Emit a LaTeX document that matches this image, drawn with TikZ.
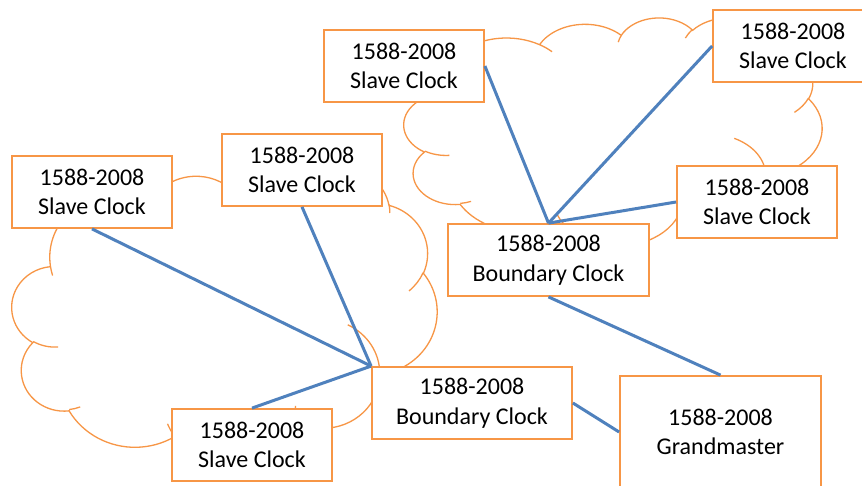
\documentclass[tikz,border=0pt]{standalone}
\usepackage{fontspec}
\setmainfont{Carlito}
\definecolor{boxc}{HTML}{F79646}
\definecolor{linec}{HTML}{4F81BD}
% Office-style cloud, drawn from its preset arcs (visual angles converted to parametric)
\newcommand\cmove[2]{%
  \pgfmathsetmacro\cPx{\cX+(#1)*\cSx}%
  \pgfmathsetmacro\cPy{0-\cY-(#2)*\cSy}%
  \pgfpathmoveto{\pgfpoint{\cPx pt}{\cPy pt}}}
\newcommand\oarc[4]{%
  \pgfmathsetmacro\oA{atan2((#1)*sin(#3),(#2)*cos(#3))}%
  \pgfmathsetmacro\oB{atan2((#1)*sin((#3)+(#4)),(#2)*cos((#3)+(#4)))}%
  \pgfmathsetmacro\oD{(\oB)-(\oA)}%
  \pgfmathsetmacro\oD{(\oD)+((#4)>0)*((\oD)<0)*360-((#4)<0)*((\oD)>0)*360}%
  \pgfmathsetmacro\oS{0-(\oA)}%
  \pgfmathsetmacro\oE{0-(\oA)-(\oD)}%
  \pgfmathsetmacro\oRx{(#1)*\cSx}%
  \pgfmathsetmacro\oRy{(#2)*\cSy}%
  \pgfpatharc{\oS}{\oE}{\oRx pt and \oRy pt}}
\newcommand\officecloud[4]{%
  \def\cX{#1}\def\cY{#2}%
  \pgfmathsetmacro\cSx{(#3)/432}\pgfmathsetmacro\cSy{(#4)/432}%
  \cmove{39.00}{143.70}%
  \oarc{67.53}{91.90}{-190.487}{123.781}%
  \oarc{53.33}{72.67}{-144.102}{89.945}%
  \oarc{43.65}{59.45}{-145.808}{99.723}%
  \oarc{48.57}{65.95}{-130.986}{117.242}%
  \oarc{53.33}{72.73}{-78.709}{109.027}%
  \oarc{67.75}{92.20}{-46.267}{130.269}%
  \oarc{57.85}{78.67}{0.625}{114.033}%
  \oarc{67.52}{92.15}{22.452}{115.173}%
  \oarc{77.20}{105.43}{66.243}{75.711}%
  \oarc{43.60}{59.18}{-274.942}{146.736}%
  \oarc{43.45}{59.45}{-246.829}{152.519}%
  \pgfpathclose
  \cmove{46.93}{261.77}\oarc{43.45}{59.45}{86.742}{26.430}%
  \cmove{69.28}{348.99}\oarc{43.60}{59.18}{73.610}{11.447}%
  \cmove{164.78}{390.90}\oarc{67.52}{92.15}{137.624}{14.081}%
  \cmove{288.27}{347.51}\oarc{67.52}{92.15}{6.453}{15.998}%
  \cmove{341.29}{229.54}\oarc{57.85}{78.67}{-70.292}{70.917}%
  \cmove{417.98}{153.54}\oarc{53.33}{72.73}{30.318}{27.752}%
  \cmove{383.24}{54.26}\oarc{48.57}{65.95}{-13.744}{14.859}%
  \cmove{290.78}{39.52}\oarc{48.57}{65.95}{-149.181}{18.195}%
  \cmove{221.41}{47.20}\oarc{43.65}{59.45}{-163.494}{17.686}%
  \cmove{140.00}{51.92}\oarc{67.53}{91.90}{-66.707}{12.319}%
  \cmove{41.27}{157.89}\oarc{67.53}{91.90}{157.654}{11.858}%
  \pgfusepath{stroke}}
\begin{document}
\begin{tikzpicture}[x=1pt,y=-1pt,
  clk/.style={draw=boxc, line width=1.8pt, fill=white, align=center, inner sep=0pt,
    minimum width=160pt, minimum height=72pt, font=\fontsize{24}{29.5}\selectfont},
  bclk/.style={clk, minimum width=200pt},
  link/.style={draw=linec, line width=3pt}]
\path[fill=white, use as bounding box] (0,0) rectangle (862,485);
% clouds
\begin{pgfscope}
  \pgfsetstrokecolor{boxc}\pgfsetlinewidth{1.3pt}
  \officecloud{12}{167}{425}{297}
  \officecloud{404}{17.2}{418}{228}
\end{pgfscope}
% clocks
\node[clk] (s1) at (92,192) {1588-2008\\Slave Clock};
\node[clk] (s2) at (302,170) {1588-2008\\Slave Clock};
\node[clk] (s3) at (252,445) {1588-2008\\Slave Clock};
\node[bclk] (b1) at (472,403) {1588-2008\\Boundary Clock};
\node[clk, minimum width=201pt, minimum height=112pt] (gm) at (720.5,432) {1588-2008\\Grandmaster};
\node[clk] (s4) at (404,66) {1588-2008\\Slave Clock};
\node[clk] (s5) at (793,46) {1588-2008\\Slave Clock};
\node[clk] (s6) at (757,202) {1588-2008\\Slave Clock};
\node[bclk, minimum width=201pt] (b2) at (548.5,260) {1588-2008\\Boundary Clock};
% links
\draw[link] (s1.south) -- (b1.north west);
\draw[link] (s2.south) -- (b1.north west);
\draw[link] (s3.north) -- (b1.north west);
\draw[link] (b1.east) -- (gm.west);
\draw[link] (s4.east) -- (b2.north);
\draw[link] (s5.west) -- (b2.north);
\draw[link] (s6.west) -- (b2.north);
\draw[link] (b2.south) -- (gm.north);
\end{tikzpicture}
\end{document}
